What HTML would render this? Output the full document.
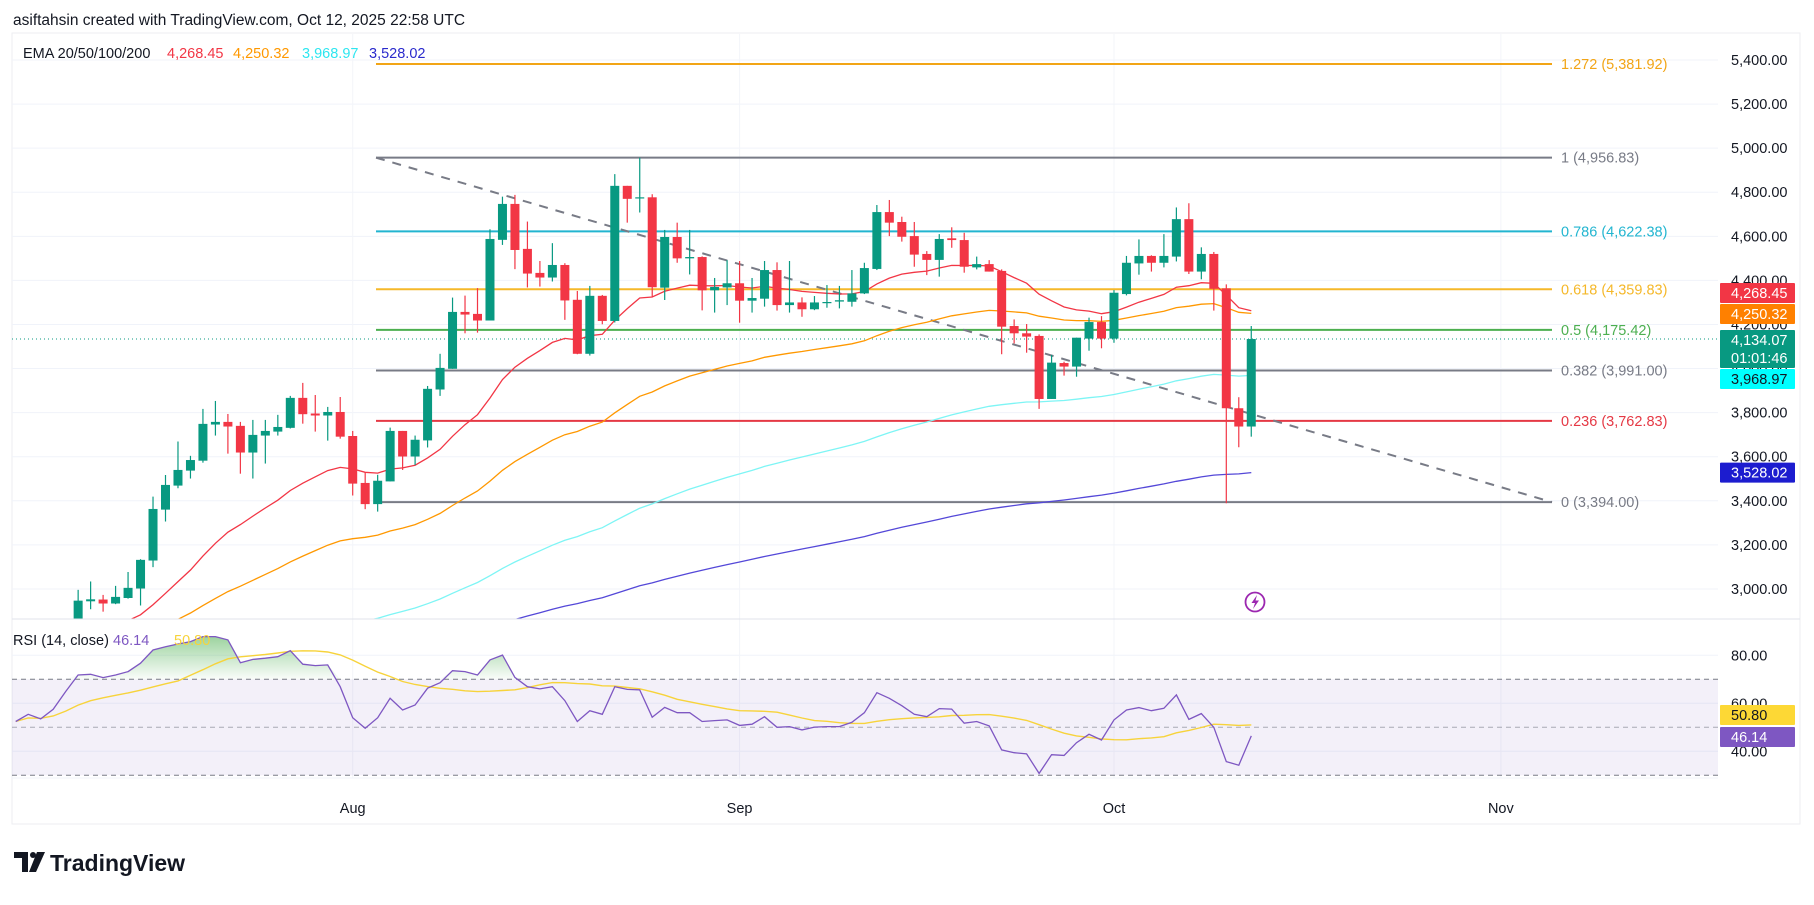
<!DOCTYPE html>
<html><head><meta charset="utf-8">
<style>
html,body{margin:0;padding:0;background:#fff;}
body{width:1814px;height:900px;overflow:hidden;position:relative;font-family:"Liberation Sans",sans-serif;}
svg text{font-family:"Liberation Sans",sans-serif;}
</style></head>
<body>
<svg id="chart" width="1814" height="900" viewBox="0 0 1814 900" xmlns="http://www.w3.org/2000/svg">
  <defs>
    <clipPath id="mainClip"><rect x="12" y="34" width="1706" height="585"/></clipPath>
    <clipPath id="rsiClip"><rect x="12" y="620" width="1706" height="158"/></clipPath>
    <linearGradient id="obGrad" x1="0" y1="0" x2="0" y2="1">
      <stop offset="0" stop-color="#4caf50" stop-opacity="0.55"/>
      <stop offset="1" stop-color="#4caf50" stop-opacity="0.03"/>
    </linearGradient>
  </defs>
  <text x="13" y="25" font-size="15.5" fill="#131722">asiftahsin created with TradingView.com, Oct 12, 2025 22:58 UTC</text>
  <rect x="12" y="33" width="1788" height="791" fill="#fff" stroke="#eceef2"/>
  <g id="grid"></g>
  <rect x="12" y="679.3" width="1706" height="96" fill="#7e57c2" fill-opacity="0.09"/>
  <g id="fib"></g>
  <g id="ema" clip-path="url(#mainClip)"></g>
  <g id="candles" clip-path="url(#mainClip)"></g>
  <g id="rsi" clip-path="url(#rsiClip)"></g>
  <g id="axes"></g>
  <line x1="12" y1="619" x2="1800" y2="619" stroke="#e0e3eb" stroke-width="1"/>
  <line x1="12" y1="778" x2="1718" y2="778" stroke="#f0f3fa"/>
  <g font-size="14.5">
    <text x="23" y="58" fill="#131722">EMA 20/50/100/200</text>
    <text x="167" y="58" fill="#f23645">4,268.45</text>
    <text x="233" y="58" fill="#ff9800">4,250.32</text>
    <text x="302" y="58" fill="#2ee6f0">3,968.97</text>
    <text x="369" y="58" fill="#2a2acc">3,528.02</text>
  </g>
  <g font-size="14.5">
    <text x="13" y="645" fill="#131722">RSI (14, close)</text>
    <text x="113" y="645" fill="#7e57c2">46.14</text>
    <text x="174" y="645" fill="#f7d33b">50.80</text>
  </g>
  <g>
    <circle cx="1255" cy="602" r="9.5" fill="#fff" stroke="#9c27b0" stroke-width="1.8"/>
    <path d="M1257 595 L1251.5 603 L1255 603 L1253 609 L1259 600.5 L1255.5 600.5 Z" fill="#9c27b0"/>
  </g>
  <g>
    <path d="M14 852 h14 v20 h-6 v-14 h-8 z" fill="#131722"/>
    <circle cx="33" cy="855" r="3" fill="#131722"/>
    <path d="M37 852 h8 l-9 20 h-7 z" fill="#131722"/>
    <text x="50" y="871" font-size="23" font-weight="bold" fill="#131722">TradingView</text>
  </g>
</svg>
<script>
// ---- data (Jul 5 .. Oct 12, 2025, daily) ----
const startLabel = "2025-07-05";
const opens  = [2515,2512,2570,2540,2615,2770,2944,2952,2934,2959,3002,3129,3360,3469,3537,3582,3746,3758,3740,3619,3696,3714,3731,3867,3796,3787,3803,
 3694,3481,3385,3488,3717,3601,3674,3905,3999,4257,4248,4218,4584,4747,4543,4434,4413,4470,4312,4067,4330,4216,4829,4772,4777,4367,4597,4500,4506,4355,4368,
 4387,4308,4317,4447,4288,4300,4269,4298,4304,4303,4341,4452,4710,4665,4601,4520,4493,4591,4583,4459,4474,4443,4193,4160,4148,3862,4025,4009,4136,4211,
 4136,4338,4477,4511,4480,4508,4678,4440,4520,4364,3820,3737];
const highs  = [2530,2585,2580,2630,2790,2996,3034,2973,3014,3077,3135,3419,3517,3669,3604,3817,3853,3794,3758,3767,3767,3790,3876,3935,3880,3826,3871,
 3717,3530,3518,3732,3717,3696,3921,4067,4322,4331,4365,4632,4780,4788,4667,4488,4569,4478,4352,4375,4334,4882,4829,4957,4791,4629,4662,4629,4509,4411,4492,
 4488,4411,4488,4482,4488,4323,4329,4379,4375,4447,4480,4742,4765,4689,4665,4533,4610,4641,4616,4508,4492,4450,4223,4202,4155,4062,4031,4140,4231,4238,
 4356,4511,4586,4514,4610,4731,4750,4550,4529,4382,3870,4193];
const lows   = [2485,2500,2520,2520,2605,2750,2908,2897,2931,2956,2925,3099,3306,3457,3501,3573,3696,3614,3523,3501,3569,3696,3728,3750,3714,3673,3682,
 3424,3362,3351,3488,3540,3562,3642,3876,3999,4160,4163,4218,4561,4451,4368,4372,4395,4221,4065,4059,4201,4209,4662,4708,4327,4311,4480,4427,4264,4254,4288,
 4208,4254,4281,4263,4254,4235,4265,4276,4273,4281,4338,4447,4601,4576,4462,4424,4417,4548,4435,4450,4440,4065,4114,4072,3817,3862,3968,3963,4081,4092,
 4117,4332,4426,4440,4459,4486,4429,4405,4263,3389,3643,3691];
const closes = [2512,2570,2540,2615,2770,2947,2953,2934,2964,3005,3132,3363,3472,3540,3585,3749,3758,3737,3619,3699,3717,3735,3867,3793,3787,3803,3691,
 3478,3385,3491,3717,3601,3677,3908,4003,4257,4245,4218,4588,4747,4538,4431,4413,4470,4309,4067,4330,4216,4829,4770,4777,4369,4597,4500,4506,4355,4370,4387,
 4308,4320,4447,4288,4300,4269,4300,4302,4310,4341,4456,4710,4662,4598,4517,4493,4588,4583,4462,4474,4440,4190,4160,4145,3862,4027,4009,4140,4211,4136,
 4344,4480,4511,4480,4511,4678,4440,4520,4362,3820,3737,4134.07];
const rsiValues = [52.4,55.4,53.5,57.5,64.9,71.8,72.1,70.7,71.8,73.2,76.7,82.2,83.6,84.7,85.7,87.8,87.8,86.4,76.9,78.3,78.8,79.4,81.9,76.3,75.7,76.0,66.9,
 54.0,49.6,54.0,62.1,57.2,59.3,66.3,68.6,73.6,73.2,71.8,78.1,80.1,70.8,66.9,66.0,66.9,61.1,52.4,56.9,55.4,66.9,65.8,65.6,54.2,58.3,56.1,56.1,52.4,52.8,53.1,
 50.8,51.3,54.4,50.0,50.3,48.9,50.1,50.3,50.3,52.1,56.1,64.4,62.1,59.0,55.4,54.4,57.8,57.6,51.7,52.4,50.6,40.6,39.4,38.9,30.8,38.6,38.3,43.6,47.1,44.7,
 53.1,57.2,58.2,56.9,57.9,63.5,53.3,55.7,50.0,35.7,34.2,46.4];
const emaPeriods = [20,50,100,200];
const emaFinal = [4268.45,4250.32,3968.97,3528.02];
const emaColors = ["#f23645","#ff9800","#7ef5f5","#5448d8"];
const fibRatios = ["1.272","1","0.786","0.618","0.5","0.382","0.236","0"];
const fibPrices = [5381.92,4956.83,4622.38,4359.83,4175.42,3991.00,3762.83,3394.00];
const fibColors = ["#f2a516","#787b86","#22b5d0","#f5b82a","#4caf50","#787b86","#e53945","#787b86"];
const priceTicks = [3000,3200,3400,3600,3800,4000,4200,4400,4600,4800,5000,5200,5400];
const rsiTicks = [40,60,80];
const monthLabels = ["Aug","Sep","Oct","Nov"];
const monthDayIndex = [27,58,88,119];

// ---- scales ----
const X0 = 352.7, DX = 12.48;
function xAt(i){ return X0 + (i-27)*DX; }
function yP(p){ return 60 + (5400-p)*0.2204; }
function yR(v){ return 727.3 - (v-50)*2.4; }
const NS = "http://www.w3.org/2000/svg";
function mk(tag, attrs, parent){
  const e = document.createElementNS(NS, tag);
  for (const k in attrs) e.setAttribute(k, attrs[k]);
  parent.appendChild(e); return e;
}
function fmt(v){ return v.toLocaleString("en-US",{minimumFractionDigits:2,maximumFractionDigits:2}); }

const grid = document.getElementById("grid");
const axes = document.getElementById("axes");
priceTicks.forEach(p=>{
  const l = mk("line",{x1:12,x2:1718,y1:yP(p),y2:yP(p),stroke:"#f0f3fa"},grid);
  
  
  const t = mk("text",{x:1731,y:yP(p)+5,"font-size":14.5,fill:"#131722"},axes);
  
  
  t.textContent = fmt(p);
});
rsiTicks.forEach(v=>{
  const l = mk("line",{x1:12,x2:1718,y1:yR(v),y2:yR(v),stroke:"#f0f3fa"},grid);
  
  
  const t = mk("text",{x:1731,y:yR(v)+5,"font-size":14.5,fill:"#131722"},axes);
  
  
  t.textContent = fmt(v);
});
monthLabels.forEach((m,k)=>{
  const x = xAt(monthDayIndex[k]);
  const l = mk("line",{x1:x,x2:x,y1:34,y2:778,stroke:"#f3f5f9"},grid);
  
  
  const t = mk("text",{x:x,y:813,"font-size":14.5,fill:"#131722","text-anchor":"middle"},axes);
  
  
  t.textContent = m;
});

// ---- fib retracement ----
const fib = document.getElementById("fib");
const fibX1 = 376, fibX2 = 1552;
fibPrices.forEach((p,k)=>{
  const l = mk("line",{x1:fibX1,x2:fibX2,y1:yP(p),y2:yP(p),stroke:fibColors[k],"stroke-width":2},fib);
  
  
  const t = mk("text",{x:1561,y:yP(p)+5,"font-size":14.5,fill:fibColors[k]},fib);
  
  
  t.textContent = fibRatios[k]+" ("+fmt(p)+")";
});
const tl = mk("line",{x1:fibX1,y1:yP(fibPrices[1]),x2:fibX2,y2:yP(fibPrices[7]),stroke:"#787b86","stroke-width":2,"stroke-dasharray":"9,8"},fib);


const lastClose = closes[closes.length-1];
const pl = mk("line",{x1:12,x2:1718,y1:yP(lastClose),y2:yP(lastClose),stroke:"#089981","stroke-width":1,"stroke-dasharray":"1,3"},fib);



// ---- EMAs ----
const emaG = document.getElementById("ema");
emaPeriods.forEach((n,k)=>{
  const a = 2/(n+1), N = closes.length;
  let e0 = 0; closes.forEach(c=>{ e0 = a*c + (1-a)*e0; });
  let seed = (emaFinal[k]-e0)/Math.pow(1-a,N);
  seed = Math.max(2300, Math.min(2900, seed));
  let e = seed; const pts = [];
  closes.forEach((c,i)=>{ e = a*c + (1-a)*e; pts.push(xAt(i).toFixed(1)+","+yP(e).toFixed(1)); });
  const pth = mk("polyline",{points:pts.join(" "),fill:"none",stroke:emaColors[k],"stroke-width":1.3},emaG);
  
  
});

// ---- candles ----
const cg = document.getElementById("candles");
closes.forEach((c,i)=>{
  const o = opens[i], up = c >= o, col = up ? "#089981" : "#f23645";
  const x = xAt(i);
  const g = mk("g",{},cg);
  
  
  mk("line",{x1:x,x2:x,y1:yP(highs[i]),y2:yP(lows[i]),stroke:col,"stroke-width":1.2},g);
  const top = yP(Math.max(o,c)), bot = yP(Math.min(o,c));
  mk("rect",{x:x-4.5,y:top,width:9,height:Math.max(1.2,bot-top),fill:col},g);
});

// ---- RSI ----
const rg = document.getElementById("rsi");
const fillPts = rsiValues.map((v,i)=>xAt(i).toFixed(1)+","+yR(Math.max(v,70)).toFixed(1));
const ob = mk("polygon",{points:xAt(0)+","+yR(70)+" "+fillPts.join(" ")+" "+xAt(rsiValues.length-1)+","+yR(70),fill:"url(#obGrad)"},rg);


[70,50,30].forEach(v=>{
  const l = mk("line",{x1:12,x2:1718,y1:yR(v),y2:yR(v),stroke:"#787b86","stroke-width":1,"stroke-dasharray":"5,4","stroke-opacity":v===50?0.6:1},rg);
  
  
});
const maPts = rsiValues.map((v,i)=>{
  const s = rsiValues.slice(Math.max(0,i-13), i+1);
  const m = s.reduce((a,b)=>a+b,0)/s.length;
  return xAt(i).toFixed(1)+","+yR(m).toFixed(1);
});
const ma = mk("polyline",{points:maPts.join(" "),fill:"none",stroke:"#f7d33b","stroke-width":1.4},rg);


const rl = mk("polyline",{points:rsiValues.map((v,i)=>xAt(i).toFixed(1)+","+yR(v).toFixed(1)).join(" "),fill:"none",stroke:"#7e57c2","stroke-width":1.3},rg);



// ---- axis badges ----
function badge(yc, h, bg, fg, lines, name){
  const g = mk("g",{},axes);
  
  
  mk("rect",{x:1720,y:yc-h/2,width:75,height:h,fill:bg,rx:1},g);
  lines.forEach((s,k)=>{
    const t = mk("text",{x:1731,y:yc-h/2+15+k*18,"font-size":14.5,fill:fg},g);
    t.textContent = s;
  });
}
badge(293,20,"#f23645","#fff",["4,268.45"],"ema20-price-badge");
badge(314,20,"#ff8000","#fff",["4,250.32"],"ema50-price-badge");
badge(349,38,"#089981","#fff",["4,134.07","01:01:46"],"last-price-badge");
badge(379,20,"#00ffff","#131722",["3,968.97"],"ema100-price-badge");
badge(yP(3528.02),20,"#1c1ccf","#fff",["3,528.02"],"ema200-price-badge");
badge(715,20,"#fdd835","#131722",["50.80"],"rsi-ma-badge");
badge(737,20,"#7e57c2","#fff",["46.14"],"rsi-value-badge");
</script>
</body></html>
